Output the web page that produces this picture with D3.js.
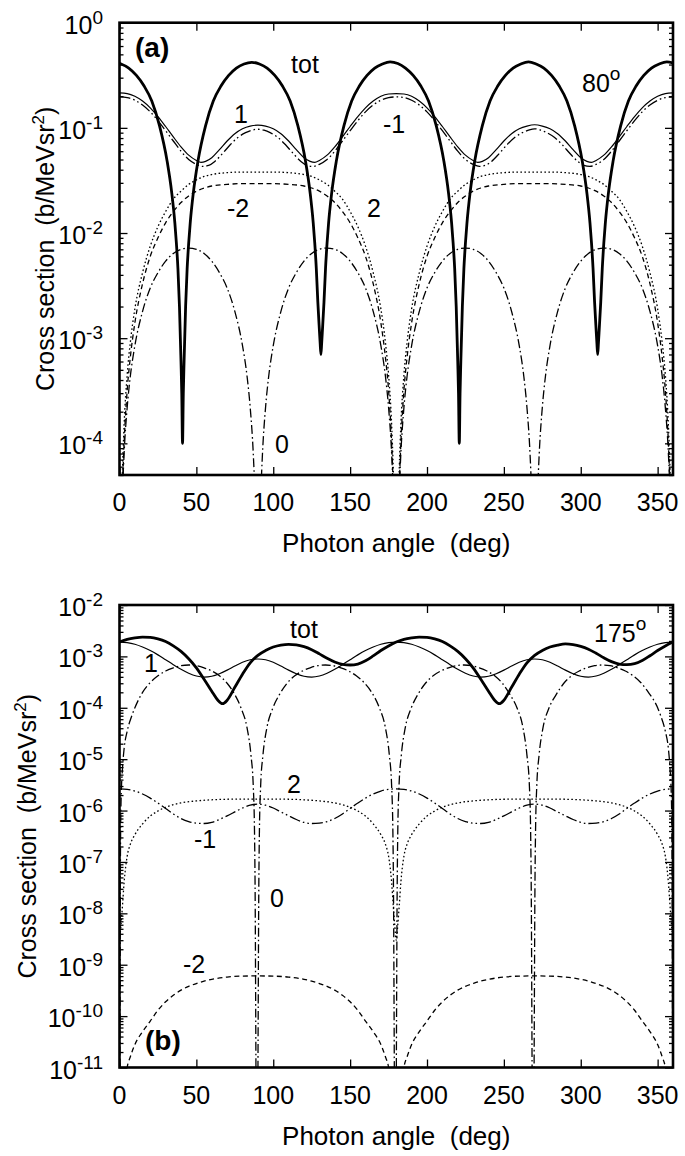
<!DOCTYPE html>
<html><head><meta charset="utf-8">
<script src="https://cdn.jsdelivr.net/npm/d3@7"></script>
<style>
body{margin:0;background:#fff}
svg{display:block}
text{font-family:"Liberation Sans",Arial,Helvetica,sans-serif;fill:#000}
</style>
</head><body>
<svg id="chart" width="685" height="1156"></svg>
<script>
// ---------- tick values ----------
const xTickValues = [0, 50, 100, 150, 200, 250, 300, 350];
const aDecades = [0, -1, -2, -3, -4];
const bDecades = [-2, -3, -4, -5, -6, -7, -8, -9, -10, -11];
const xTitle = "Photon angle  (deg)";
const yTitle = "Cross section  (b/MeVsr";

// ---------- panel (a), 80 deg : [angle, value] ----------
const aTot = [[0,0.41],[1,0.405],[6,0.37],[11,0.315],[16,0.25],[21,0.18],[26,0.105],[31,0.048],[34,0.024],[36,0.0125],[37,0.008],[38,0.0046],[39,0.002],[40,6e-4],[40.5,3e-4],[41,1e-4],[41.5,3e-4],[42,6e-4],[43,0.002],[44,0.0046],[45,0.008],[46,0.0125],[48,0.024],[51,0.048],[56,0.105],[61,0.18],[66,0.25],[71,0.315],[76,0.37],[81,0.405],[86,0.42],[91,0.405],[96,0.37],[101,0.315],[106,0.25],[111,0.18],[116,0.105],[121,0.048],[124,0.024],[126,0.0125],[127,0.008],[128,0.0046],[129,0.0022],[130,1.2e-3],[130.5,9e-4],[131,7e-4],[131.5,9e-4],[132,1.2e-3],[133,0.0022],[134,0.0046],[135,0.008],[136,0.0125],[138,0.024],[141,0.048],[146,0.105],[151,0.18],[156,0.25],[161,0.315],[166,0.37],[171,0.405],[176,0.425],[181,0.41],[186,0.37],[191,0.315],[196,0.25],[201,0.18],[206,0.105],[211,0.048],[214,0.024],[216,0.0125],[217,0.008],[218,0.0046],[219,0.002],[220,6e-4],[220.5,3e-4],[221,1e-4],[221.5,3e-4],[222,6e-4],[223,0.002],[224,0.0046],[225,0.008],[226,0.0125],[228,0.024],[231,0.048],[236,0.105],[241,0.18],[246,0.25],[251,0.315],[256,0.37],[261,0.405],[266,0.425],[271,0.405],[276,0.37],[281,0.315],[286,0.25],[291,0.18],[296,0.105],[301,0.048],[304,0.024],[306,0.0125],[307,0.008],[308,0.0046],[309,0.0022],[310,1.2e-3],[310.5,9e-4],[311,7e-4],[311.5,9e-4],[312,1.2e-3],[313,0.0022],[314,0.0046],[315,0.008],[316,0.0125],[318,0.024],[321,0.048],[326,0.105],[331,0.18],[336,0.25],[341,0.315],[346,0.37],[351,0.405],[356,0.425],[360,0.415]];

const aOne = [[0,0.215],[5,0.212],[10,0.2],[15,0.18],[20,0.155],[25,0.128],[30,0.103],[35,0.082],[40,0.066],[45,0.055],[50,0.049],[53,0.047],[56,0.048],[60,0.052],[65,0.062],[70,0.075],[75,0.088],[80,0.098],[85,0.104],[90,0.106],[95,0.104],[100,0.098],[105,0.088],[110,0.075],[115,0.062],[120,0.052],[124,0.048],[127,0.047],[130,0.049],[135,0.055],[140,0.066],[145,0.082],[150,0.103],[155,0.128],[160,0.155],[165,0.18],[170,0.2],[175,0.21],[180,0.212],[185,0.21],[190,0.2],[195,0.18],[200,0.155],[205,0.128],[210,0.103],[215,0.082],[220,0.066],[225,0.055],[230,0.049],[233,0.047],[236,0.048],[240,0.052],[245,0.062],[250,0.075],[255,0.088],[260,0.098],[265,0.104],[270,0.107],[275,0.104],[280,0.098],[285,0.088],[290,0.075],[295,0.062],[300,0.052],[304,0.048],[307,0.047],[310,0.049],[315,0.055],[320,0.066],[325,0.082],[330,0.103],[335,0.128],[340,0.155],[345,0.18],[350,0.2],[355,0.212],[360,0.215]];

const aMinusOne = [[0,0.197],[5,0.194],[10,0.183],[15,0.165],[20,0.142],[25,0.117],[30,0.094],[35,0.075],[40,0.06],[45,0.05],[50,0.045],[54,0.043],[58,0.044],[62,0.048],[67,0.057],[72,0.069],[77,0.081],[82,0.09],[86,0.095],[90,0.097],[94,0.095],[98,0.09],[103,0.081],[108,0.069],[113,0.057],[118,0.048],[122,0.044],[126,0.043],[130,0.045],[135,0.05],[140,0.06],[145,0.075],[150,0.094],[155,0.117],[160,0.142],[165,0.165],[170,0.183],[175,0.194],[180,0.197],[185,0.194],[190,0.183],[195,0.165],[200,0.142],[205,0.117],[210,0.094],[215,0.075],[220,0.06],[225,0.05],[230,0.045],[234,0.043],[238,0.044],[242,0.048],[247,0.057],[252,0.069],[257,0.081],[262,0.09],[266,0.095],[270,0.098],[274,0.095],[278,0.09],[283,0.081],[288,0.069],[293,0.057],[298,0.048],[302,0.044],[306,0.043],[310,0.045],[315,0.05],[320,0.06],[325,0.075],[330,0.094],[335,0.117],[340,0.142],[345,0.165],[350,0.183],[355,0.194],[360,0.197]];

const aTwo = [[0,1e-6],[1,1.5e-5],[2,6e-5],[3,1.5e-4],[5,4.5e-4],[7,9e-4],[10,1.9e-3],[15,4.2e-3],[20,7.5e-3],[25,0.0115],[30,0.016],[35,0.021],[40,0.025],[45,0.029],[50,0.032],[55,0.0345],[60,0.036],[70,0.0375],[80,0.038],[90,0.038],[100,0.038],[110,0.0375],[120,0.036],[125,0.0345],[130,0.032],[135,0.029],[140,0.025],[145,0.021],[150,0.016],[155,0.0115],[160,0.0075],[165,4.2e-3],[170,1.9e-3],[173,9e-4],[175,4.5e-4],[177,1.5e-4],[178,6e-5],[179,1.5e-5],[180,1e-6],[181,1.5e-5],[182,6e-5],[183,1.5e-4],[185,4.5e-4],[187,9e-4],[190,1.9e-3],[195,4.2e-3],[200,7.5e-3],[205,0.0115],[210,0.016],[215,0.021],[220,0.025],[225,0.029],[230,0.032],[235,0.0345],[240,0.036],[250,0.0375],[260,0.038],[270,0.038],[280,0.038],[290,0.0375],[300,0.036],[305,0.0345],[310,0.032],[315,0.029],[320,0.025],[325,0.021],[330,0.016],[335,0.0115],[340,0.0075],[345,4.2e-3],[350,1.9e-3],[353,9e-4],[355,4.5e-4],[357,1.5e-4],[358,6e-5],[359,1.5e-5],[360,1e-6]];

const aMinusTwo = [[0,1e-6],[1,1e-5],[2,4e-5],[3,1e-4],[5,3.2e-4],[7,6.5e-4],[10,1.4e-3],[15,3.3e-3],[20,6e-3],[25,9e-3],[30,0.0125],[35,0.016],[40,0.0195],[45,0.0225],[50,0.025],[55,0.0268],[60,0.028],[70,0.029],[80,0.0295],[90,0.0295],[100,0.0295],[110,0.029],[120,0.028],[125,0.0268],[130,0.025],[135,0.0225],[140,0.0195],[145,0.016],[150,0.0125],[155,9e-3],[160,6e-3],[165,3.3e-3],[170,1.4e-3],[173,6.5e-4],[175,3.2e-4],[177,1e-4],[178,4e-5],[179,1e-5],[180,1e-6],[181,1e-5],[182,4e-5],[183,1e-4],[185,3.2e-4],[187,6.5e-4],[190,1.4e-3],[195,3.3e-3],[200,6e-3],[205,9e-3],[210,0.0125],[215,0.016],[220,0.0195],[225,0.0225],[230,0.025],[235,0.0268],[240,0.028],[250,0.029],[260,0.0295],[270,0.0295],[280,0.0295],[290,0.029],[300,0.028],[305,0.0268],[310,0.025],[315,0.0225],[320,0.0195],[325,0.016],[330,0.0125],[335,9e-3],[340,6e-3],[345,3.3e-3],[350,1.4e-3],[353,6.5e-4],[355,3.2e-4],[357,1e-4],[358,4e-5],[359,1e-5],[360,1e-6]];

const aZero = [[0,1e-7],[1,9e-6],[2,3.5e-5],[3,8e-5],[5,2.2e-4],[7,4.3e-4],[10,8.5e-4],[15,1.8e-3],[20,3e-3],[25,4.2e-3],[30,5.4e-3],[35,6.4e-3],[40,7e-3],[45,7.2e-3],[50,7e-3],[55,6.4e-3],[60,5.4e-3],[65,4.2e-3],[70,3e-3],[75,1.8e-3],[80,8.5e-4],[83,4.3e-4],[85,2.2e-4],[87,8e-5],[88,3.5e-5],[89,9e-6],[90,1e-7],
[91,9e-6],[92,3.5e-5],[93,8e-5],[95,2.2e-4],[97,4.3e-4],[100,8.5e-4],[105,1.8e-3],[110,3e-3],[115,4.2e-3],[120,5.4e-3],[125,6.4e-3],[130,7e-3],[135,7.2e-3],[140,7e-3],[145,6.4e-3],[150,5.4e-3],[155,4.2e-3],[160,3e-3],[165,1.8e-3],[170,8.5e-4],[173,4.3e-4],[175,2.2e-4],[177,8e-5],[178,3.5e-5],[179,9e-6],[180,1e-7],
[181,9e-6],[182,3.5e-5],[183,8e-5],[185,2.2e-4],[187,4.3e-4],[190,8.5e-4],[195,1.8e-3],[200,3e-3],[205,4.2e-3],[210,5.4e-3],[215,6.4e-3],[220,7e-3],[225,7.2e-3],[230,7e-3],[235,6.4e-3],[240,5.4e-3],[245,4.2e-3],[250,3e-3],[255,1.8e-3],[260,8.5e-4],[263,4.3e-4],[265,2.2e-4],[267,8e-5],[268,3.5e-5],[269,9e-6],[270,1e-7],
[271,9e-6],[272,3.5e-5],[273,8e-5],[275,2.2e-4],[277,4.3e-4],[280,8.5e-4],[285,1.8e-3],[290,3e-3],[295,4.2e-3],[300,5.4e-3],[305,6.4e-3],[310,7e-3],[315,7.2e-3],[320,7e-3],[325,6.4e-3],[330,5.4e-3],[335,4.2e-3],[340,3e-3],[345,1.8e-3],[350,8.5e-4],[353,4.3e-4],[355,2.2e-4],[357,8e-5],[358,3.5e-5],[359,9e-6],[360,1e-7]];

// ---------- panel (b), 175 deg ----------
const bTot = [[0,1.9e-3],[5,2.15e-3],[10,2.3e-3],[15,2.38e-3],[20,2.35e-3],[25,2.2e-3],[30,1.95e-3],[35,1.6e-3],[40,1.25e-3],[45,9e-4],[50,6e-4],[55,3.6e-4],[60,2.1e-4],[64,1.4e-4],[67,1.2e-4],[70,1.4e-4],[75,2.5e-4],[80,4.5e-4],[85,7.5e-4],[90,1.05e-3],[95,1.3e-3],[100,1.52e-3],[105,1.66e-3],[110,1.72e-3],[115,1.68e-3],[120,1.55e-3],[125,1.35e-3],[130,1.12e-3],[135,9.2e-4],[140,7.8e-4],[145,7e-4],[150,6.8e-4],[155,7.1e-4],[160,8.2e-4],[165,1.02e-3],[170,1.3e-3],[175,1.6e-3],[180,1.9e-3],[185,2.15e-3],[190,2.3e-3],[195,2.38e-3],[200,2.35e-3],[205,2.2e-3],[210,1.95e-3],[215,1.6e-3],[220,1.25e-3],[225,9e-4],[230,6e-4],[235,3.6e-4],[240,2.1e-4],[244,1.4e-4],[247,1.2e-4],[250,1.4e-4],[255,2.5e-4],[260,4.5e-4],[265,7.5e-4],[270,1.05e-3],[275,1.3e-3],[280,1.52e-3],[285,1.66e-3],[290,1.75e-3],[295,1.7e-3],[300,1.57e-3],[305,1.38e-3],[310,1.15e-3],[315,9.4e-4],[320,7.9e-4],[325,7.1e-4],[330,6.9e-4],[335,7.2e-4],[340,8.3e-4],[345,1.03e-3],[350,1.3e-3],[355,1.6e-3],[360,1.9e-3]];

const bOne = [[0,1.9e-3],[5,1.85e-3],[10,1.72e-3],[15,1.52e-3],[20,1.3e-3],[25,1.07e-3],[30,8.6e-4],[35,6.9e-4],[40,5.6e-4],[45,4.7e-4],[50,4.15e-4],[55,3.95e-4],[60,4.1e-4],[65,4.6e-4],[70,5.4e-4],[75,6.5e-4],[80,7.7e-4],[85,8.6e-4],[90,8.9e-4],[95,8.6e-4],[100,7.7e-4],[105,6.5e-4],[110,5.4e-4],[115,4.6e-4],[120,4.1e-4],[125,3.95e-4],[130,4.15e-4],[135,4.7e-4],[140,5.6e-4],[145,6.9e-4],[150,8.6e-4],[155,1.07e-3],[160,1.3e-3],[165,1.52e-3],[170,1.72e-3],[175,1.85e-3],[180,1.9e-3],[185,1.85e-3],[190,1.72e-3],[195,1.52e-3],[200,1.3e-3],[205,1.07e-3],[210,8.6e-4],[215,6.9e-4],[220,5.6e-4],[225,4.7e-4],[230,4.15e-4],[235,3.95e-4],[240,4.1e-4],[245,4.6e-4],[250,5.4e-4],[255,6.5e-4],[260,7.7e-4],[265,8.6e-4],[270,8.9e-4],[275,8.6e-4],[280,7.7e-4],[285,6.5e-4],[290,5.4e-4],[295,4.6e-4],[300,4.1e-4],[305,3.95e-4],[310,4.15e-4],[315,4.7e-4],[320,5.6e-4],[325,6.9e-4],[330,8.6e-4],[335,1.07e-3],[340,1.3e-3],[345,1.52e-3],[350,1.72e-3],[355,1.85e-3],[360,1.9e-3]];

const bZero = [[0,1e-14],[0.3,1e-10],[0.6,1e-7],[1,1.5e-6],[2,7e-6],[3,1.6e-5],[5,3.5e-5],[8,7e-5],[10,1e-4],[15,2e-4],[20,3.1e-4],[25,4.2e-4],[30,5.2e-4],[35,6e-4],[40,6.6e-4],[45,6.8e-4],[50,6.6e-4],[55,6e-4],[60,5.2e-4],[65,4.2e-4],[70,3e-4],[75,1.8e-4],[79,1e-4],[83,4e-5],[85.5,1.2e-5],[87,3e-6],[87.8,4e-7],[88.3,1e-8],[88.6,1e-10],[88.9,1e-12],[89.4,1e-14],
[89.9,1e-12],[90.2,1e-10],[90.5,1e-8],[91,4e-7],[91.8,3e-6],[93.3,1.2e-5],[95.8,4e-5],[99.8,1e-4],[104,1.8e-4],[109,3e-4],[114,4.2e-4],[119,5.2e-4],[124,6e-4],[129,6.6e-4],[134,6.8e-4],[139,6.6e-4],[144,6e-4],[149,5.2e-4],[154,4.2e-4],[159,3.1e-4],[164,2e-4],[169,1e-4],[173,4e-5],[175.5,1.2e-5],[177,3e-6],[177.8,4e-7],[178.3,1e-8],[178.6,1e-10],[178.9,1e-12],[179.4,1e-14],
[179.9,1e-12],[180.2,1e-10],[180.5,1e-8],[181,4e-7],[181.8,3e-6],[183.3,1.2e-5],[185.8,4e-5],[189.8,1e-4],[194,1.8e-4],[199,3e-4],[204,4.2e-4],[209,5.2e-4],[214,6e-4],[219,6.6e-4],[224,6.8e-4],[229,6.6e-4],[234,6e-4],[239,5.2e-4],[244,4.2e-4],[249,3e-4],[254,1.8e-4],[258.5,1e-4],[262.5,4e-5],[265,1.2e-5],[266.6,3e-6],[267.4,4e-7],[267.9,1e-8],[268.2,1e-10],[268.5,1e-12],[269,1e-14],
[269.5,1e-12],[269.8,1e-10],[270.1,1e-8],[270.6,4e-7],[271.4,3e-6],[272.9,1.2e-5],[275.4,4e-5],[279.4,1e-4],[284,1.8e-4],[289,3e-4],[294,4.2e-4],[299,5.2e-4],[304,6e-4],[309,6.6e-4],[314,6.8e-4],[319,6.6e-4],[324,6e-4],[329,5.2e-4],[334,4.2e-4],[339,3.1e-4],[344,2e-4],[350,1e-4],[352,7e-5],[355,3.5e-5],[357,1.6e-5],[358,7e-6],[359,1.5e-6],[359.4,1e-7],[359.7,1e-10],[360,1e-14]];

const bTwo = [[0,3e-9],[1,6e-9],[2,1.5e-8],[3,4e-8],[4,8e-8],[5,1.3e-7],[7,2.2e-7],[10,3.4e-7],[15,5.5e-7],[20,7.8e-7],[25,9.8e-7],[30,1.16e-6],[35,1.3e-6],[40,1.41e-6],[50,1.54e-6],[60,1.62e-6],[70,1.66e-6],[80,1.67e-6],[90,1.67e-6],[100,1.67e-6],[110,1.66e-6],[120,1.62e-6],[130,1.54e-6],[140,1.41e-6],[145,1.3e-6],[150,1.16e-6],[155,9.8e-7],[160,7.8e-7],[165,5.5e-7],[170,3.4e-7],[173,2.2e-7],[175,1.3e-7],[176,8e-8],[177,4e-8],[178,1.5e-8],[179,6e-9],[180,3e-9],[181,6e-9],[182,1.5e-8],[183,4e-8],[184,8e-8],[185,1.3e-7],[187,2.2e-7],[190,3.4e-7],[195,5.5e-7],[200,7.8e-7],[205,9.8e-7],[210,1.16e-6],[215,1.3e-6],[220,1.41e-6],[230,1.54e-6],[240,1.62e-6],[250,1.66e-6],[260,1.67e-6],[270,1.67e-6],[280,1.67e-6],[290,1.66e-6],[300,1.62e-6],[310,1.54e-6],[320,1.41e-6],[325,1.3e-6],[330,1.16e-6],[335,9.8e-7],[340,7.8e-7],[345,5.5e-7],[350,3.4e-7],[353,2.2e-7],[355,1.3e-7],[356,8e-8],[357,4e-8],[358,1.5e-8],[359,6e-9],[360,3e-9]];

const bMinusOne = [[0,2.65e-6],[5,2.58e-6],[10,2.4e-6],[15,2.1e-6],[20,1.75e-6],[25,1.4e-6],[30,1.1e-6],[35,8.6e-7],[40,7e-7],[45,6.1e-7],[50,5.7e-7],[55,5.6e-7],[60,5.9e-7],[65,6.7e-7],[70,7.9e-7],[75,9.4e-7],[80,1.12e-6],[85,1.27e-6],[90,1.33e-6],[95,1.27e-6],[100,1.12e-6],[105,9.4e-7],[110,7.9e-7],[115,6.7e-7],[120,5.9e-7],[125,5.6e-7],[130,5.7e-7],[135,6.1e-7],[140,7e-7],[145,8.6e-7],[150,1.1e-6],[155,1.4e-6],[160,1.75e-6],[165,2.1e-6],[170,2.4e-6],[175,2.58e-6],[180,2.65e-6],[185,2.58e-6],[190,2.4e-6],[195,2.1e-6],[200,1.75e-6],[205,1.4e-6],[210,1.1e-6],[215,8.6e-7],[220,7e-7],[225,6.1e-7],[230,5.7e-7],[235,5.6e-7],[240,5.9e-7],[245,6.7e-7],[250,7.9e-7],[255,9.4e-7],[260,1.12e-6],[265,1.27e-6],[270,1.33e-6],[275,1.27e-6],[280,1.12e-6],[285,9.4e-7],[290,7.9e-7],[295,6.7e-7],[300,5.9e-7],[305,5.6e-7],[310,5.7e-7],[315,6.1e-7],[320,7e-7],[325,8.6e-7],[330,1.1e-6],[335,1.4e-6],[340,1.75e-6],[345,2.1e-6],[350,2.4e-6],[355,2.58e-6],[360,2.65e-6]];

const bMinusTwo = [[0,1e-13],[2,1e-12],[3.5,4e-12],[5,1e-11],[7,1.6e-11],[10,2.8e-11],[15,5e-11],[20,8e-11],[25,1.3e-10],[30,1.9e-10],[35,2.55e-10],[40,3.2e-10],[45,3.8e-10],[50,4.3e-10],[55,4.8e-10],[60,5.2e-10],[70,5.75e-10],[80,6e-10],[90,6.05e-10],[100,6e-10],[110,5.75e-10],[120,5.2e-10],[125,4.8e-10],[130,4.3e-10],[135,3.8e-10],[140,3.2e-10],[145,2.55e-10],[150,1.9e-10],[155,1.3e-10],[160,8e-11],[165,5e-11],[170,2.8e-11],[173,1.6e-11],[175,1e-11],[176.5,4e-12],[178,1e-12],[180,1e-13],[182,1e-12],[183.5,4e-12],[185,1e-11],[187,1.6e-11],[190,2.8e-11],[195,5e-11],[200,8e-11],[205,1.3e-10],[210,1.9e-10],[215,2.55e-10],[220,3.2e-10],[225,3.8e-10],[230,4.3e-10],[235,4.8e-10],[240,5.2e-10],[250,5.75e-10],[260,6e-10],[270,6.05e-10],[280,6e-10],[290,5.75e-10],[300,5.2e-10],[305,4.8e-10],[310,4.3e-10],[315,3.8e-10],[320,3.2e-10],[325,2.55e-10],[330,1.9e-10],[335,1.3e-10],[340,8e-11],[345,5e-11],[350,2.8e-11],[353,1.6e-11],[355,1e-11],[356.5,4e-12],[358,1e-12],[360,1e-13]];

// ---------- drawing ----------
const svg = d3.select("#chart");
const FONT = 25;
const styles = {
  tot:  {w: 2.8, dash: null},
  one:  {w: 1.2, dash: null},
  m1:   {w: 1.3, dash: "11,3,1.6,3,1.6,3"},
  zero: {w: 1.3, dash: "9,3,1.6,3"},
  two:  {w: 1.3, dash: "1.6,2.4"},
  m2:   {w: 1.3, dash: "5,3.5"}
};

function sup(textSel, base, exp, supSize, raise) {
  textSel.append("tspan").text(base);
  textSel.append("tspan").attr("dy", -raise).style("font-size", supSize + "px").text(exp);
}

function drawPanel(cfg) {
  const L = 119.5, R = 673;
  const x = d3.scaleLinear().domain([0, 360]).range([L, R]);
  const y = d3.scaleLog().domain(cfg.yDomain).range([cfg.bottom, cfg.top]);
  const g = svg.append("g");
  const clipId = "clip-" + cfg.id;
  svg.append("clipPath").attr("id", clipId).append("rect")
    .attr("x", L).attr("y", cfg.top).attr("width", R - L).attr("height", cfg.bottom - cfg.top);

  const line = d3.line().x(d => x(d[0])).y(d => y(d[1])).curve(d3.curveMonotoneX);
  const cg = g.append("g").attr("clip-path", `url(#${clipId})`);
  cfg.series.forEach(s => {
    cg.append("path").attr("d", line(s.data)).attr("fill", "none")
      .attr("stroke", "#000").attr("stroke-width", s.style.w)
      .attr("stroke-dasharray", s.style.dash)
      .attr("stroke-linejoin", "miter").attr("stroke-miterlimit", 20);
  });

  // ticks
  const lo = Math.log10(cfg.yDomain[0]), hi = Math.log10(cfg.yDomain[1]);
  const minor = [];
  for (let d = Math.floor(lo); d < Math.ceil(hi); d++) {
    for (let k = 2; k <= 9; k++) {
      const v = k * Math.pow(10, d);
      if (v >= cfg.yDomain[0] && v <= cfg.yDomain[1]) minor.push(v);
    }
  }
  const major = cfg.decades.map(e => Math.pow(10, e));
  const tickStyle = sel => { sel.select(".domain").remove(); sel.selectAll("line").attr("stroke", "#000").attr("stroke-width", 1.3); sel.selectAll("text").remove(); };
  g.append("g").attr("transform", `translate(0,${cfg.bottom})`)
    .call(d3.axisBottom(x).tickValues(xTickValues).tickSize(-8).tickFormat("")).call(tickStyle);
  g.append("g").attr("transform", `translate(0,${cfg.top})`)
    .call(d3.axisTop(x).tickValues(xTickValues).tickSize(-8).tickFormat("")).call(tickStyle);
  g.append("g").attr("transform", `translate(${L},0)`)
    .call(d3.axisLeft(y).tickValues(major).tickSize(-8).tickFormat("")).call(tickStyle);
  g.append("g").attr("transform", `translate(${L},0)`)
    .call(d3.axisLeft(y).tickValues(minor).tickSize(-4).tickFormat("")).call(tickStyle);
  g.append("g").attr("transform", `translate(${R},0)`)
    .call(d3.axisRight(y).tickValues(major).tickSize(-8).tickFormat("")).call(tickStyle);
  g.append("g").attr("transform", `translate(${R},0)`)
    .call(d3.axisRight(y).tickValues(minor).tickSize(-4).tickFormat("")).call(tickStyle);

  // frame
  g.append("rect").attr("x", L).attr("y", cfg.top).attr("width", R - L).attr("height", cfg.bottom - cfg.top)
    .attr("fill", "none").attr("stroke", "#000").attr("stroke-width", 2.6);

  // x tick labels
  xTickValues.forEach(v => {
    g.append("text").attr("x", x(v)).attr("y", cfg.bottom + 36).attr("text-anchor", "middle")
      .style("font-size", FONT + "px").text(v);
  });
  // y tick labels
  cfg.decades.forEach(e => {
    const t = g.append("text").attr("x", 103).attr("y", y(Math.pow(10, e)) + 11)
      .attr("text-anchor", "end").style("font-size", FONT + "px");
    sup(t, "10", String(e), 19, 10);
  });
  // axis titles
  g.append("text").attr("x", (L + R) / 2).attr("y", cfg.bottom + 77).attr("text-anchor", "middle")
    .attr("xml:space", "preserve").style("white-space", "pre").style("font-size", "26px").text(xTitle);
  const yt = g.append("text").attr("transform", `translate(${cfg.yTitleX},${(cfg.top + cfg.bottom) / 2}) rotate(-90)`)
    .attr("text-anchor", "middle").attr("xml:space", "preserve").style("white-space", "pre").style("font-size", FONT + "px");
  yt.append("tspan").text(yTitle);
  yt.append("tspan").attr("dy", -10).style("font-size", "17px").text("2");
  yt.append("tspan").attr("dy", 10).text(")");

  // panel letter
  g.append("text").attr("x", cfg.letter[1]).attr("y", cfg.letter[2]).style("font-size", "28px")
    .style("font-weight", "bold").text(cfg.letter[0]);
  // angle
  const at = g.append("text").attr("x", cfg.angle[1]).attr("y", cfg.angle[2]).style("font-size", FONT + "px");
  sup(at, cfg.angle[0], "o", 19, 12);
  // curve labels
  cfg.labels.forEach(l => {
    g.append("text").attr("x", l[1]).attr("y", l[2]).attr("text-anchor", "middle")
      .style("font-size", FONT + "px").text(l[0]);
  });
}

drawPanel({
  id: "a", top: 22.7, bottom: 475, yDomain: [5e-5, 1], decades: aDecades, yTitleX: 54,
  letter: ["(a)", 135, 57], angle: ["80", 582, 92],
  labels: [["tot", 305, 73], ["1", 241, 123], ["-1", 394, 133], ["-2", 238, 217], ["2", 374, 217], ["0", 282, 453]],
  series: [
    {data: aMinusTwo, style: styles.m2},
    {data: aTwo, style: styles.two},
    {data: aZero, style: styles.zero},
    {data: aMinusOne, style: styles.m1},
    {data: aOne, style: styles.one},
    {data: aTot, style: styles.tot}
  ]
});

drawPanel({
  id: "b", top: 605, bottom: 1067.5, yDomain: [1e-11, 1e-2], decades: bDecades, yTitleX: 36,
  letter: ["(b)", 145, 1050], angle: ["175", 594, 642],
  labels: [["tot", 304, 638], ["1", 151, 672], ["2", 294, 793], ["-1", 205, 848], ["0", 277, 907], ["-2", 194, 973]],
  series: [
    {data: bMinusTwo, style: styles.m2},
    {data: bTwo, style: styles.two},
    {data: bZero, style: styles.zero},
    {data: bMinusOne, style: styles.m1},
    {data: bOne, style: styles.one},
    {data: bTot, style: styles.tot}
  ]
});
</script>
</body></html>
